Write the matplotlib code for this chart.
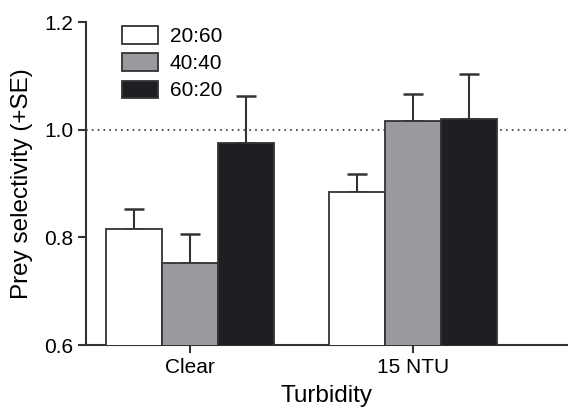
import numpy as np
import matplotlib
matplotlib.use('Agg')
import matplotlib.pyplot as plt

# Prey selectivity by turbidity and prey ratio
turbidity = ['Clear', '15 NTU']
ratios = ['20:60', '40:40', '60:20']
means = {
    '20:60': [0.815, 0.885],
    '40:40': [0.752, 1.017],
    '60:20': [0.976, 1.020],
}
se = {
    '20:60': [0.037, 0.033],
    '40:40': [0.054, 0.050],
    '60:20': [0.087, 0.084],
}
colors = {'20:60': '#ffffff', '40:40': '#9a999e', '60:20': '#1e1f23'}

plt.rcParams['font.family'] = ['Liberation Sans', 'DejaVu Sans']

fig = plt.figure(figsize=(5.68, 4.13), dpi=100)
ax = fig.add_axes([0.1514, 0.1646, 0.8486, 0.782])

x = np.arange(len(turbidity))
w = 0.25
for i, r in enumerate(ratios):
    pos = x + (i - 1) * w
    ax.bar(pos, means[r], width=w, bottom=0, color=colors[r], edgecolor='#333333',
           linewidth=1.3, label=r, zorder=3)
    ax.errorbar(pos, means[r], yerr=[np.zeros(len(x)), se[r]], fmt='none',
                ecolor='#333333', elinewidth=1.5, capsize=7, capthick=1.8, zorder=2)

ax.axhline(1.0, color='#333333', linestyle=(0, (1, 2.5)), linewidth=1.2, zorder=1)

ax.set_ylim(0.6, 1.2)
ax.set_yticks([0.6, 0.8, 1.0, 1.2])
ax.set_yticklabels(['0.6', '0.8', '1.0', '1.2'])
ax.set_xlim(-0.466, 1.695)
ax.set_xticks(x)
ax.set_xticklabels(turbidity)

for s in ['top', 'right']:
    ax.spines[s].set_visible(False)
for s in ['left', 'bottom']:
    ax.spines[s].set_linewidth(1.5)
    ax.spines[s].set_color('#333333')
ax.tick_params(direction='out', length=6, width=1.5, color='#333333', labelsize=15,
               pad=3)

ax.set_xlabel('Turbidity', fontsize=17.5, labelpad=6)
ax.set_ylabel('Prey selectivity (+SE)', fontsize=17.5, labelpad=8)

ax.legend(loc='upper left', bbox_to_anchor=(0.035, 1.045), frameon=False, fontsize=15,
          handlelength=1.75, handleheight=0.9, labelspacing=0.35, handletextpad=0.55)

fig.savefig('out.png', dpi=100)
